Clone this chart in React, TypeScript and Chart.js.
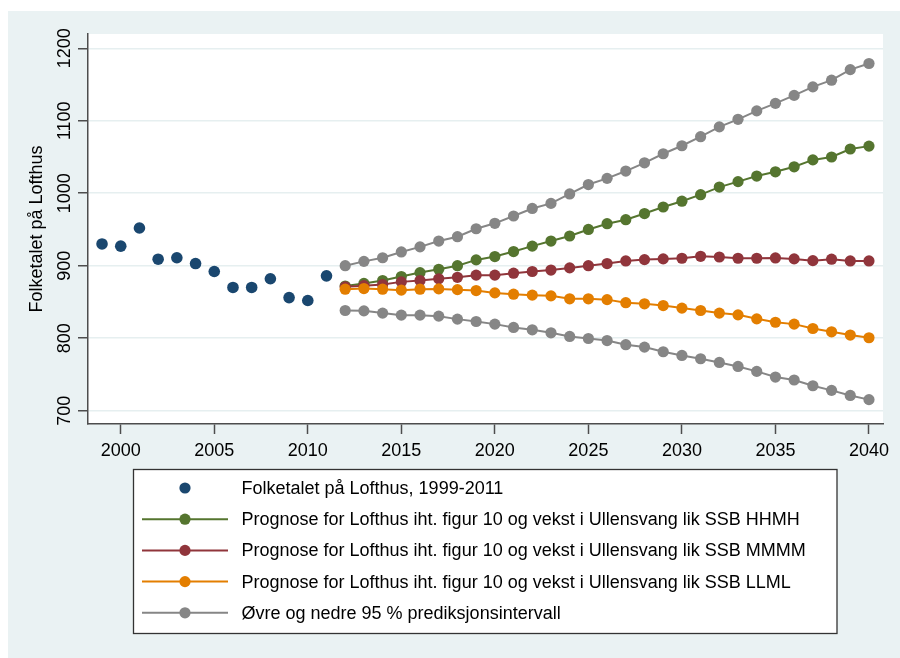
import React, { useEffect, useRef } from "react";
import { Chart, registerables } from "chart.js";

Chart.register(...registerables);

// ---- data ----
const histYears = [1999, 2000, 2001, 2002, 2003, 2004, 2005, 2006, 2007, 2008, 2009, 2010, 2011];
const histValues = [930, 927, 952, 909, 911, 903, 892, 870, 870, 882, 856, 852, 886];

const projYears = [
  2012, 2013, 2014, 2015, 2016, 2017, 2018, 2019, 2020, 2021, 2022, 2023, 2024, 2025, 2026,
  2027, 2028, 2029, 2030, 2031, 2032, 2033, 2034, 2035, 2036, 2037, 2038, 2039, 2040,
];
const hhmh = [
  872, 875.5, 879.5, 885, 890.5, 895, 900, 908, 912.6, 919.5, 927, 934, 941, 950, 958,
  963.5, 972, 981, 989, 998, 1008.5, 1016, 1023.7, 1029.6, 1036.5, 1046, 1050, 1061, 1065,
];
const mmmm = [
  871, 872.5, 874, 877.7, 879.5, 882, 884, 887, 887, 889.7, 892, 894, 897, 900, 903,
  906.6, 908.4, 909.4, 910.3, 913, 912, 910.3, 910.3, 910.7, 909.4, 907, 909, 906.6, 906.6,
];
const llml = [
  867.6, 868.5, 867.6, 866.3, 867.6, 868, 867, 865.7, 862.5, 860.7, 859.4, 858.4, 854.3, 854.3, 853.2,
  849, 847.4, 845, 841.5, 838.2, 834.6, 832.2, 826.7, 822, 819.4, 813.4, 808.8, 804.3, 800.6,
];
const upper95 = [
  900, 906, 911, 919, 926, 934, 940, 951, 958.5, 968.6, 979, 986, 999, 1012, 1020.5,
  1030.6, 1042, 1054.5, 1065.5, 1078, 1091.6, 1102, 1113.6, 1124, 1135, 1146.7, 1156, 1170.6, 1179,
];
const lower95 = [
  838.2, 837.7, 834.6, 831.8, 831.8, 830.4, 826.3, 823, 819.4, 814.8, 811.6, 807.4, 802.4, 799.6, 796.7,
  791, 787.7, 781.3, 776.2, 771.6, 766.5, 761, 754.2, 746.4, 742.3, 734.4, 728, 721, 715.2,
];

const xTicks = [2000, 2005, 2010, 2015, 2020, 2025, 2030, 2035, 2040];
const yTicks = [700, 800, 900, 1000, 1100, 1200];

const yTitle = "Folketalet på Lofthus";
const labelHist = "Folketalet på Lofthus, 1999-2011";
const labelHHMH = "Prognose for Lofthus iht. figur 10 og vekst i Ullensvang lik SSB HHMH";
const labelMMMM = "Prognose for Lofthus iht. figur 10 og vekst i Ullensvang lik SSB MMMM";
const labelLLML = "Prognose for Lofthus iht. figur 10 og vekst i Ullensvang lik SSB LLML";
const labelCI = "Øvre og nedre 95 % prediksjonsintervall";

// ---- styles ----
const FONT = "'Liberation Sans', Arial, sans-serif";
const BG = "#eaf2f3";
const GRID = "#e6eff0";
const AXIS = "#4d4d4d";
const NAVY = "#1a476f";
const GREEN = "#55752f";
const MAROON = "#90353b";
const ORANGE = "#e37e00";
const GRAY = "#868686";

const legendItems = [
  { label: labelHist, color: NAVY, line: false },
  { label: labelHHMH, color: GREEN, line: true },
  { label: labelMMMM, color: MAROON, line: true },
  { label: labelLLML, color: ORANGE, line: true },
  { label: labelCI, color: GRAY, line: true },
];

const pts = (xs: number[], ys: number[]) => xs.map((x, i) => ({ x, y: ys[i] }));

const bgPlugin = {
  id: "bgPlugin",
  beforeDraw(chart: any) {
    const { ctx, chartArea } = chart;
    ctx.save();
    ctx.fillStyle = "#ffffff";
    ctx.fillRect(0, 0, chart.width, chart.height);
    ctx.fillStyle = BG;
    ctx.fillRect(8, 11, chart.width - 8, chart.height - 11);
    ctx.fillStyle = "#ffffff";
    ctx.fillRect(chartArea.left, chartArea.top, chartArea.right - chartArea.left, chartArea.bottom - chartArea.top);
    ctx.restore();
  },
};

const legendPlugin = {
  id: "customLegend",
  afterDraw(chart: any) {
    const ctx = chart.ctx;
    const bx = 133.5, by = 469.5, bw = 703.5, bh = 164;
    ctx.save();
    ctx.fillStyle = "#ffffff";
    ctx.fillRect(bx, by, bw, bh);
    ctx.strokeStyle = "#333333";
    ctx.lineWidth = 1.3;
    ctx.strokeRect(bx, by, bw, bh);
    ctx.font = `18px ${FONT}`;
    ctx.textBaseline = "middle";
    ctx.textAlign = "left";
    legendItems.forEach((it, i) => {
      const cy = 488 + i * 31.2;
      if (it.line) {
        ctx.strokeStyle = it.color;
        ctx.lineWidth = 2;
        ctx.beginPath();
        ctx.moveTo(142, cy);
        ctx.lineTo(228, cy);
        ctx.stroke();
      }
      ctx.fillStyle = it.color;
      ctx.beginPath();
      ctx.arc(185, cy, 5.6, 0, Math.PI * 2);
      ctx.fill();
      ctx.fillStyle = "#000000";
      ctx.fillText(it.label, 241.5, cy + 1);
    });
    ctx.restore();
  },
};

export default function App() {
  const ref = useRef<HTMLCanvasElement | null>(null);

  useEffect(() => {
    if (!ref.current) return;
    const lineDs = (label: string, data: any, color: string, order: number) => ({
      label,
      data,
      borderColor: color,
      backgroundColor: color,
      pointBackgroundColor: color,
      pointBorderWidth: 0,
      pointRadius: 5.6,
      borderWidth: 2,
      tension: 0,
      showLine: true,
      order,
    });
    const chart = new Chart(ref.current, {
      type: "line",
      data: {
        datasets: [
          {
            label: labelHist,
            data: pts(histYears, histValues),
            borderColor: NAVY,
            backgroundColor: NAVY,
            pointBackgroundColor: NAVY,
            pointBorderWidth: 0,
            pointRadius: 5.8,
            showLine: false,
            order: 5,
          },
          lineDs(labelHHMH, pts(projYears, hhmh), GREEN, 4),
          lineDs(labelMMMM, pts(projYears, mmmm), MAROON, 3),
          lineDs(labelLLML, pts(projYears, llml), ORANGE, 2),
          lineDs(labelCI, pts(projYears, upper95), GRAY, 1),
          lineDs(labelCI, pts(projYears, lower95), GRAY, 1),
        ] as any,
      },
      options: {
        responsive: false,
        animation: false,
        events: [],
        layout: { padding: { left: 0, top: 34, right: 17, bottom: 194 } },
        plugins: {
          legend: { display: false },
          tooltip: { enabled: false },
        },
        scales: {
          x: {
            type: "linear",
            min: 1998.25,
            max: 2040.75,
            afterBuildTicks: (s: any) => {
              s.ticks = xTicks.map((v) => ({ value: v }));
            },
            afterFit: (s: any) => {
              s.height = 40;
            },
            grid: { drawOnChartArea: false, tickLength: 10, tickColor: AXIS, tickWidth: 1.5 },
            border: { color: AXIS, width: 1.5 },
            ticks: {
              padding: 6,
              color: "#000000",
              font: { family: FONT, size: 18 },
              maxRotation: 0,
              autoSkip: false,
              callback: (v: any) => String(v),
            },
          },
          y: {
            type: "linear",
            min: 681.6,
            max: 1219.7,
            afterBuildTicks: (s: any) => {
              s.ticks = yTicks.map((v) => ({ value: v }));
            },
            afterFit: (s: any) => {
              s.width = 88;
            },
            grid: { color: GRID, lineWidth: 1.5, tickLength: 10, tickColor: AXIS, tickWidth: 1.5 },
            border: { color: AXIS, width: 1.5 },
            ticks: {
              minRotation: 90,
              maxRotation: 90,
              crossAlign: "center",
              padding: -7,
              color: "#000000",
              font: { family: FONT, size: 18 },
              autoSkip: false,
              callback: (v: any) => String(v),
            },
            title: {
              display: true,
              text: yTitle,
              color: "#000000",
              font: { family: FONT, size: 18 },
              padding: { top: 26, bottom: 0 },
            },
          },
        },
      } as any,
      plugins: [bgPlugin, legendPlugin],
    });
    return () => chart.destroy();
  }, []);

  return (
    <div style={{ position: "absolute", left: 0, top: 0, width: 900, height: 658 }}>
      <canvas ref={ref} width={900} height={658} style={{ display: "block" }} />
    </div>
  );
}
